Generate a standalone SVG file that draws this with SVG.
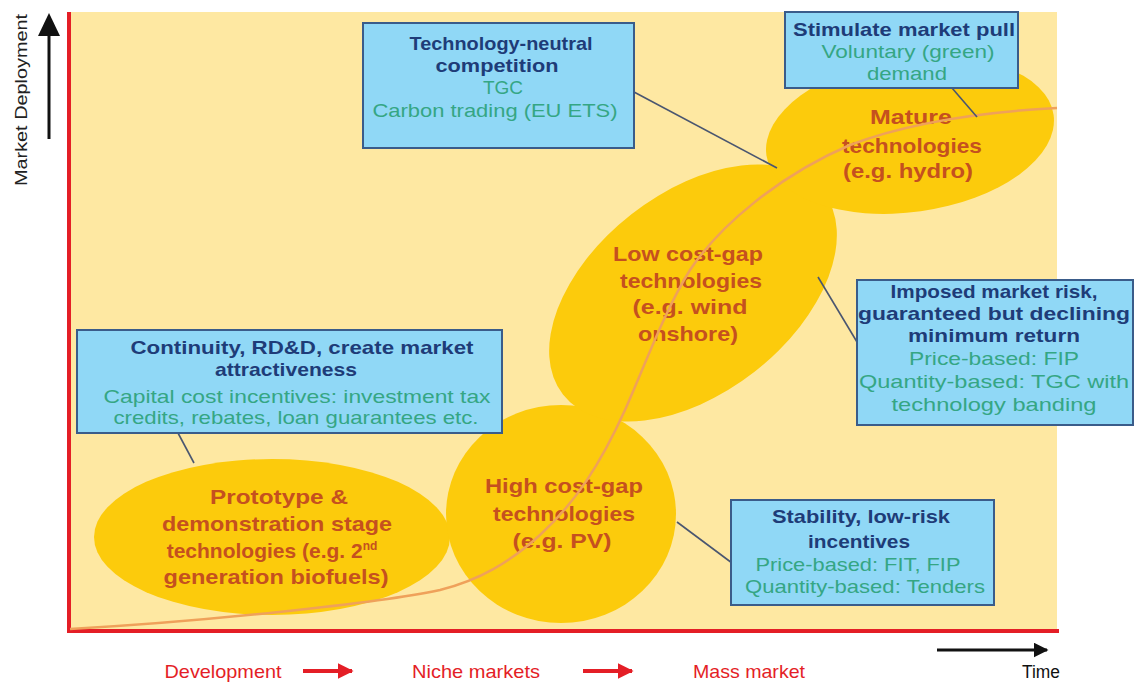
<svg xmlns="http://www.w3.org/2000/svg" width="1137" height="684" viewBox="0 0 1137 684">
<defs>
<style>
.bx{fill:#90D8F6;stroke:#3A5C8A;stroke-width:2}
.el{fill:#FCCB0C}
.t{font-family:"Liberation Sans",Arial,sans-serif;font-weight:bold;font-size:19px;fill:#1E3C78;text-anchor:middle}
.g{font-family:"Liberation Sans",Arial,sans-serif;font-size:19px;fill:#35A684;text-anchor:middle}
.e{font-family:"Liberation Sans",Arial,sans-serif;font-weight:bold;font-size:21px;fill:#C5501F;text-anchor:middle}
.b{font-family:"Liberation Sans",Arial,sans-serif;font-size:19px;fill:#E41E26;text-anchor:middle}
.cn{stroke:#4A5670;stroke-width:1.6;fill:none}
</style>
<marker id="ra" viewBox="0 0 10 10" refX="9" refY="5" markerWidth="4" markerHeight="4" orient="auto" markerUnits="strokeWidth"><path d="M0 0L10 5L0 10z" fill="#E41E26"/></marker>
<marker id="ka" viewBox="0 0 10 10" refX="9" refY="5" markerWidth="5" markerHeight="5" orient="auto" markerUnits="strokeWidth"><path d="M0 0L10 5L0 10z" fill="#111"/></marker>
</defs>
<rect x="0" y="0" width="1137" height="684" fill="#fff"/>
<rect x="69" y="12" width="988" height="619" fill="#FEE8A2"/>

<g id="axes">
<line x1="69" y1="12" x2="69" y2="633" stroke="#E41E26" stroke-width="4"/>
<line x1="67" y1="631" x2="1059" y2="631" stroke="#E41E26" stroke-width="4"/>
<line x1="49" y1="139" x2="49" y2="30" stroke="#111" stroke-width="3"/>
<path d="M49 13L60 36L38 36z" fill="#111"/>
<text transform="translate(27,100) rotate(-90)" font-family="Liberation Sans, Arial, sans-serif" font-size="16" fill="#222" text-anchor="middle" textLength="172" lengthAdjust="spacingAndGlyphs">Market Deployment</text>
<line x1="937" y1="650" x2="1047" y2="650" stroke="#111" stroke-width="3" marker-end="url(#ka)"/>
<text x="1041" y="678" font-family="Liberation Sans, Arial, sans-serif" font-size="18" fill="#111" text-anchor="middle" textLength="38" lengthAdjust="spacingAndGlyphs">Time</text>
<text class="b" x="223" y="678" textLength="117" lengthAdjust="spacingAndGlyphs">Development</text>
<line x1="303" y1="671" x2="352" y2="671" stroke="#E41E26" stroke-width="4" marker-end="url(#ra)"/>
<text class="b" x="476" y="678" textLength="128" lengthAdjust="spacingAndGlyphs">Niche markets</text>
<line x1="583" y1="671" x2="632" y2="671" stroke="#E41E26" stroke-width="4" marker-end="url(#ra)"/>
<text class="b" x="749" y="678" textLength="112" lengthAdjust="spacingAndGlyphs">Mass market</text>
</g>

<g id="node-prototype">
<ellipse class="el" cx="272" cy="537" rx="178" ry="78"/>
<text class="e" x="279" y="504" textLength="138" lengthAdjust="spacingAndGlyphs">Prototype &amp;</text>
<text class="e" x="277" y="531" textLength="230" lengthAdjust="spacingAndGlyphs">demonstration stage</text>
<text class="e" x="272" y="558">technologies (e.g. 2<tspan font-size="12" dy="-8">nd</tspan></text>
<text class="e" x="276" y="584" textLength="225" lengthAdjust="spacingAndGlyphs">generation biofuels)</text>
</g>

<g id="node-highcost">
<ellipse class="el" cx="561" cy="514" rx="115" ry="109"/>
<text class="e" x="564" y="493" textLength="158" lengthAdjust="spacingAndGlyphs">High cost-gap</text>
<text class="e" x="564" y="521" textLength="142" lengthAdjust="spacingAndGlyphs">technologies</text>
<text class="e" x="562" y="548" textLength="99" lengthAdjust="spacingAndGlyphs">(e.g. PV)</text>
</g>

<g id="node-lowcost">
<ellipse class="el" cx="0" cy="0" rx="165" ry="100" transform="translate(693,293) rotate(-38)"/>
<text class="e" x="688" y="261" textLength="150" lengthAdjust="spacingAndGlyphs">Low cost-gap</text>
<text class="e" x="691" y="288" textLength="142" lengthAdjust="spacingAndGlyphs">technologies</text>
<text class="e" x="690" y="314" textLength="115" lengthAdjust="spacingAndGlyphs">(e.g. wind</text>
<text class="e" x="688" y="341" textLength="100" lengthAdjust="spacingAndGlyphs">onshore)</text>
</g>

<g id="node-mature">
<ellipse class="el" cx="0" cy="0" rx="145" ry="77" transform="translate(910,135) rotate(-8)"/>
<text class="e" x="911" y="124" textLength="82" lengthAdjust="spacingAndGlyphs">Mature</text>
<text class="e" x="912" y="153" textLength="140" lengthAdjust="spacingAndGlyphs">technologies</text>
<text class="e" x="908" y="178" textLength="130" lengthAdjust="spacingAndGlyphs">(e.g. hydro)</text>
</g>

<g id="connectors">
<path d="M70 629C200 622 380 603 440 590C480 580 510 562 540 535C575 503 600 465 625 410C645 365 665 310 690 270C720 225 780 175 850 145C910 122 980 112 1057 108" stroke="#EFA15A" stroke-width="2.5" fill="none"/>
<line class="cn" x1="634" y1="92" x2="777" y2="168"/>
<line class="cn" x1="952" y1="88" x2="977" y2="117"/>
<line class="cn" x1="818" y1="277" x2="857" y2="342"/>
<line class="cn" x1="178" y1="433" x2="194" y2="463"/>
<line class="cn" x1="677" y1="522" x2="732" y2="563"/>
</g>

<g id="box-techneutral">
<rect class="bx" x="363" y="23" width="271" height="125"/>
<text class="t" x="501" y="50" textLength="183" lengthAdjust="spacingAndGlyphs">Technology-neutral</text>
<text class="t" x="497" y="72" textLength="123" lengthAdjust="spacingAndGlyphs">competition</text>
<text class="g" x="503" y="94">TGC</text>
<text class="g" x="495" y="117" textLength="245" lengthAdjust="spacingAndGlyphs">Carbon trading (EU ETS)</text>
</g>

<g id="box-marketpull">
<rect class="bx" x="785" y="12" width="233" height="76"/>
<text class="t" x="904" y="36" textLength="222" lengthAdjust="spacingAndGlyphs">Stimulate market pull</text>
<text class="g" x="908" y="58" textLength="173" lengthAdjust="spacingAndGlyphs">Voluntary (green)</text>
<text class="g" x="907" y="80" textLength="80" lengthAdjust="spacingAndGlyphs">demand</text>
</g>

<g id="box-imposed">
<rect class="bx" x="857" y="280" width="276" height="145"/>
<text class="t" x="994" y="298" textLength="207" lengthAdjust="spacingAndGlyphs">Imposed market risk,</text>
<text class="t" x="994" y="320" textLength="272" lengthAdjust="spacingAndGlyphs">guaranteed but declining</text>
<text class="t" x="994" y="342" textLength="172" lengthAdjust="spacingAndGlyphs">minimum return</text>
<text class="g" x="994" y="365" textLength="170" lengthAdjust="spacingAndGlyphs">Price-based: FIP</text>
<text class="g" x="994" y="388" textLength="270" lengthAdjust="spacingAndGlyphs">Quantity-based: TGC with</text>
<text class="g" x="994" y="411" textLength="205" lengthAdjust="spacingAndGlyphs">technology banding</text>
</g>

<g id="box-continuity">
<rect class="bx" x="77" y="330" width="425" height="103"/>
<text class="t" x="302" y="354" textLength="343" lengthAdjust="spacingAndGlyphs">Continuity, RD&amp;D, create market</text>
<text class="t" x="286" y="376" textLength="142" lengthAdjust="spacingAndGlyphs">attractiveness</text>
<text class="g" x="297" y="403" textLength="387" lengthAdjust="spacingAndGlyphs">Capital cost incentives: investment tax</text>
<text class="g" x="296" y="424" textLength="365" lengthAdjust="spacingAndGlyphs">credits, rebates, loan guarantees etc.</text>
</g>

<g id="box-stability">
<rect class="bx" x="731" y="500" width="263" height="105"/>
<text class="t" x="861" y="523" textLength="178" lengthAdjust="spacingAndGlyphs">Stability, low-risk</text>
<text class="t" x="859" y="548" textLength="102" lengthAdjust="spacingAndGlyphs">incentives</text>
<text class="g" x="858" y="571" textLength="205" lengthAdjust="spacingAndGlyphs">Price-based: FIT, FIP</text>
<text class="g" x="865" y="593" textLength="240" lengthAdjust="spacingAndGlyphs">Quantity-based: Tenders</text>
</g>
</svg>
